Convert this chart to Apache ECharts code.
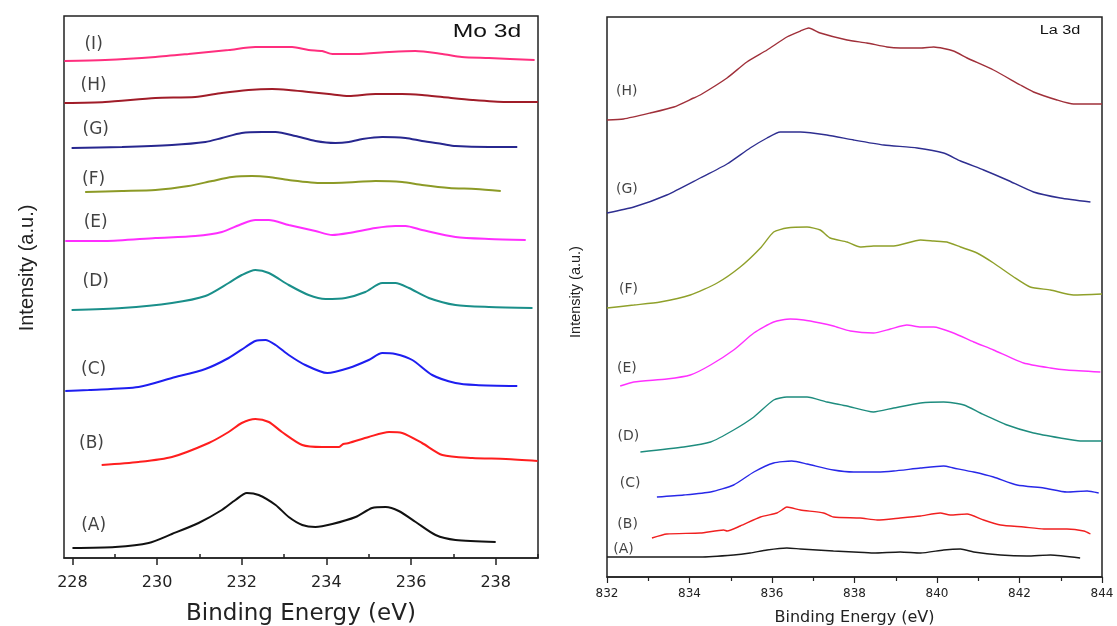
<!DOCTYPE html>
<html>
<head>
<meta charset="utf-8">
<script src="https://cdn.jsdelivr.net/npm/echarts@6/dist/echarts.min.js"></script>
<style>
  html, body { margin: 0; padding: 0; background: #fff; }
  #chart { width: 1117px; height: 626px; }
</style>
</head>
<body>
<div id="chart"></div>
<script>
// ---- Mo 3d spectra: [binding energy (eV), intensity (a.u., stacked)] ----
const moMajorTicks = [228, 230, 232, 234, 236, 238];
const moMinorTicks = [229, 231, 233, 235, 237, 239];

const moA = [[228.0,10],[229.01,11],[229.8,15],[230.35,24],[230.98,35],[231.53,48],[231.85,58],[232.12,65],[232.4,63],[232.8,53],[233.11,41],[233.43,33],[233.74,31],[234.14,34],[234.69,41],[235.08,50],[235.4,51],[235.71,47],[236.11,36],[236.58,23],[237.05,18],[238.0,16]];
const moB = [[228.69,93],[229.56,96],[230.35,101],[231.22,115],[231.69,126],[232.0,135],[232.32,139],[232.64,136],[232.95,126],[233.43,113],[233.9,111],[234.3,111],[234.4,114],[234.53,115],[235.0,121],[235.48,126],[235.79,125],[236.26,115],[236.74,103],[237.45,100],[238.24,99],[238.99,97]];
const moC = [[227.83,167],[228.38,168],[229.56,171],[230.35,180],[231.14,189],[231.69,200],[232.09,211],[232.32,217],[232.56,218],[232.8,213],[233.11,203],[233.5,193],[234.02,185],[234.53,190],[235.0,198],[235.32,205],[235.63,204],[236.03,198],[236.5,183],[237.05,175],[237.53,173],[238.51,172]];
const moD = [[227.98,248],[229.17,250],[230.35,255],[231.14,262],[231.69,275],[232.0,283],[232.32,288],[232.64,285],[233.11,273],[233.58,263],[233.98,259],[234.45,260],[234.92,266],[235.32,275],[235.63,275],[235.95,270],[236.42,260],[237.05,253],[237.84,251],[238.87,250]];
const moE = [[227.83,317],[228.77,317],[229.96,320],[230.9,322],[231.53,326],[232.0,334],[232.32,338],[232.64,338],[233.11,333],[233.74,327],[234.14,323],[234.53,325],[235.16,330],[235.63,332],[235.87,332],[236.26,328],[237.05,321],[237.84,319],[238.71,318]];
const moF = [[228.3,366],[229.17,367],[229.96,368],[230.74,372],[231.3,377],[231.77,381],[232.24,382],[232.64,381],[233.11,378],[233.9,375],[234.69,376],[235.16,377],[235.79,376],[236.26,373],[236.9,370],[237.53,369],[238.12,367]];
const moG = [[227.98,410],[229.17,411],[230.35,413],[231.14,416],[231.53,420],[232.0,425],[232.48,426],[232.8,426],[233.27,422],[233.74,417],[234.21,415],[234.53,416],[234.85,419],[235.32,421],[235.87,420],[236.26,417],[236.74,414],[237.05,412],[237.84,411],[238.51,411]];
const moH = [[227.81,455],[228.77,456],[229.96,460],[230.9,461],[231.53,465],[232.16,468],[232.72,469],[233.11,468],[233.58,466],[234.06,464],[234.53,462],[235.16,464],[235.48,464],[235.79,464],[236.26,463],[236.74,461],[237.45,458],[238.24,456],[239.0,456]];
const moI = [[227.81,497],[228.77,498],[229.96,501],[230.74,504],[231.69,508],[232.32,511],[232.95,511],[233.19,511],[233.58,508],[233.9,507],[234.14,504],[234.69,504],[235.48,506],[236.1,507],[236.74,504],[237.2,501],[237.84,500],[238.92,498]];

const moNames = ['(A)','(B)','(C)','(D)','(E)','(F)','(G)','(H)','(I)'];
const moLabelAt = [[228.5,32],[228.45,114],[228.5,188],[228.55,276],[228.55,335],[228.5,378],[228.55,428],[228.5,472],[228.5,513]];

// ---- La 3d spectra ----
const laA = [[832,20],[833.05,20],[833.45,20],[834.26,20],[835.07,22],[835.47,24],[835.88,27],[836.36,29],[836.69,28],[837.49,26],[837.98,25],[838.46,24],[839.11,25],[839.6,24],[840.16,27],[840.57,28],[840.89,25],[841.54,22],[842.18,21],[842.75,22],[843.47,19]];
const laB = [[833.09,39],[833.45,43],[834.26,44],[834.83,47],[834.91,46],[835.23,51],[835.72,60],[836.12,64],[836.24,67],[836.36,70],[836.69,67],[837.25,64],[837.49,60],[838.14,59],[838.55,57],[839.11,59],[839.6,61],[840.08,64],[840.32,62],[840.73,63],[841.13,57],[841.54,52],[842.1,50],[842.59,48],[843.15,48],[843.56,46],[843.72,43]];
const laC = [[833.21,80],[833.86,82],[834.51,85],[835.07,92],[835.56,105],[836.04,114],[836.48,116],[836.85,113],[837.49,107],[837.98,105],[838.55,105],[838.95,106],[839.6,109],[840.16,111],[840.4,109],[840.89,105],[841.37,100],[841.94,92],[842.59,89],[843.15,85],[843.64,86],[843.92,84]];
const laD = [[832.81,125],[833.86,130],[834.51,135],[835.07,147],[835.56,160],[836.04,177],[836.36,180],[836.85,180],[837.33,175],[837.82,171],[838.46,165],[838.95,169],[839.6,174],[840.16,175],[840.65,172],[841.05,164],[841.7,152],[842.34,144],[842.99,139],[843.47,136],[844,136]];
const laE = [[832.32,191],[832.65,195],[833.45,198],[834.02,202],[834.51,212],[835.07,227],[835.56,244],[836.04,255],[836.44,258],[836.77,257],[837.17,254],[837.49,251],[837.9,246],[838.46,244],[838.87,248],[839.27,252],[839.6,250],[839.92,250],[840.4,244],[840.89,235],[841.37,227],[842.1,214],[842.75,209],[843.15,207],[843.96,205]];
const laF = [[832,269],[832.65,272],[833.29,275],[834.02,282],[834.67,294],[835.23,310],[835.72,329],[836.04,345],[836.36,349],[836.85,350],[837.17,347],[837.41,339],[837.82,335],[838.14,330],[838.46,331],[838.95,331],[839.6,337],[839.92,336],[840.24,335],[840.57,330],[840.97,324],[841.37,314],[841.86,300],[842.26,290],[842.75,287],[843.31,282],[844,283]];
const laG = [[832,364],[832.65,370],[833.45,382],[834.26,399],[834.91,413],[835.47,429],[835.88,439],[836.2,445],[836.69,445],[837.33,442],[837.98,437],[838.71,432],[839.52,429],[840.16,424],[840.57,416],[841.13,407],[841.7,397],[842.34,385],[842.99,379],[843.72,375]];
const laH = [[832,457],[832.4,458],[833.05,464],[833.62,470],[834.1,479],[834.26,482],[834.91,499],[835.39,515],[835.88,527],[836.36,540],[836.69,546],[836.89,549],[837.17,544],[837.82,537],[838.3,534],[838.79,530],[839.11,529],[839.6,529],[839.92,530],[840.4,526],[840.73,519],[841.37,507],[842.02,492],[842.34,485],[842.91,477],[843.31,473],[844,473]];

const laNames = ['(A)','(B)','(C)','(D)','(E)','(F)','(G)','(H)'];
const laLabelAt = [[832.4,28],[832.5,53],[832.56,94],[832.52,141],[832.48,209],[832.52,288],[832.48,388],[832.48,486]];

// ---- styling ----
const moColors = ['#111111','#ff1e1e','#1e1ef0','#1a8f8a','#ff2eff','#8c9a26','#27278f','#a01c28','#ff2e7e'];
const laColors = ['#1a1a1a','#f02020','#2828e8','#1e8c7e','#ff30ff','#8fa02a','#2e2e90','#a0303a'];
const frame = '#222';
const numFont = '"DejaVu Sans", sans-serif';
const textFont = '"Liberation Sans", Arial, sans-serif';

const moSeriesData = [moA, moB, moC, moD, moE, moF, moG, moH, moI];
const laSeriesData = [laA, laB, laC, laD, laE, laF, laG, laH];

const series = [];
moSeriesData.forEach((d, i) => series.push({
  type: 'line', name: 'Mo ' + moNames[i], xAxisIndex: 0, yAxisIndex: 0,
  data: d, symbol: 'none', smooth: 0.25, silent: true,
  lineStyle: { color: moColors[i], width: 2 }
}));
laSeriesData.forEach((d, i) => series.push({
  type: 'line', name: 'La ' + laNames[i], xAxisIndex: 2, yAxisIndex: 1,
  data: d, symbol: 'none', smooth: 0.2, silent: true,
  lineStyle: { color: laColors[i], width: 1.4 }
}));

// sample tags next to each trace
series.push({
  type: 'scatter', xAxisIndex: 0, yAxisIndex: 0, silent: true,
  symbol: 'circle', symbolSize: 1, itemStyle: { color: 'rgba(0,0,0,0)' },
  data: moNames.map((n, i) => ({ name: n, value: moLabelAt[i] })),
  label: { show: true, position: 'inside', formatter: '{b}', color: '#111',
           fontFamily: numFont, fontSize: 17 }
});
series.push({
  type: 'scatter', xAxisIndex: 2, yAxisIndex: 1, silent: true,
  symbol: 'circle', symbolSize: 1, itemStyle: { color: 'rgba(0,0,0,0)' },
  data: laNames.map((n, i) => ({ name: n, value: laLabelAt[i] })),
  label: { show: true, position: 'inside', formatter: '{b}', color: '#111',
           fontFamily: numFont, fontSize: 14 }
});

const chart = echarts.init(document.getElementById('chart'), null, { renderer: 'canvas' });
chart.setOption({
  backgroundColor: '#ffffff',
  animation: false,
  grid: [
    { left: 64, top: 16, width: 474, height: 542, containLabel: false, outerBoundsMode: 'none',
      show: true, borderColor: frame, borderWidth: 1.5, backgroundColor: 'transparent' },
    { left: 607, top: 17, width: 495, height: 560, containLabel: false, outerBoundsMode: 'none',
      show: true, borderColor: frame, borderWidth: 1.5, backgroundColor: 'transparent' }
  ],
  xAxis: [
    {
      gridIndex: 0, type: 'value', min: 227.8, max: 239,
      axisLine: { show: true, onZero: false, lineStyle: { color: frame, width: 1.5 } },
      axisTick: { show: true, customValues: moMajorTicks, length: 7, lineStyle: { color: frame, width: 1.5 } },
      axisLabel: { customValues: moMajorTicks, color: '#222', fontFamily: numFont, fontSize: 16, margin: 17 },
      splitLine: { show: false },
      name: 'Binding Energy (eV)', nameLocation: 'middle', nameGap: 45,
      nameTextStyle: { color: '#222', fontFamily: numFont, fontSize: 23 }
    },
    {
      gridIndex: 0, type: 'value', min: 227.8, max: 239,
      axisLine: { show: false },
      axisTick: { show: true, customValues: moMinorTicks, length: 4, lineStyle: { color: frame, width: 1.5 } },
      axisLabel: { show: false }, splitLine: { show: false }
    },
    {
      gridIndex: 1, type: 'value', min: 832, max: 844, interval: 2,
      axisLine: { show: true, onZero: false, lineStyle: { color: frame, width: 1.5 } },
      axisTick: { show: true, length: 6, lineStyle: { color: frame, width: 1.2 } },
      minorTick: { show: true, splitNumber: 2, length: 4, lineStyle: { color: frame, width: 1.2 } },
      axisLabel: { color: '#222', fontFamily: numFont, fontSize: 12, margin: 11 },
      splitLine: { show: false },
      name: 'Binding Energy (eV)', nameLocation: 'middle', nameGap: 33,
      nameTextStyle: { color: '#222', fontFamily: numFont, fontSize: 16 }
    }
  ],
  yAxis: [
    { gridIndex: 0, type: 'value', min: 0, max: 542, show: false },
    { gridIndex: 1, type: 'value', min: 0, max: 560, show: false }
  ],
  graphic: [
    { type: 'text', x: 27, y: 268, rotation: Math.PI / 2, silent: true,
      style: { text: 'Intensity (a.u.)', fill: '#222', fontFamily: textFont, fontSize: 20, align: 'center', verticalAlign: 'middle' } },
    { type: 'text', x: 576, y: 292, rotation: Math.PI / 2, silent: true,
      style: { text: 'Intensity (a.u.)', fill: '#222', fontFamily: textFont, fontSize: 14.5, align: 'center', verticalAlign: 'middle' } },
    { type: 'text', x: 487, y: 32, scaleX: 1.3, silent: true,
      style: { text: 'Mo 3d', fill: '#111', fontFamily: textFont, fontSize: 19, align: 'center', verticalAlign: 'middle' } },
    { type: 'text', x: 1060, y: 31, scaleX: 1.3, silent: true,
      style: { text: 'La 3d', fill: '#111', fontFamily: textFont, fontSize: 12.5, align: 'center', verticalAlign: 'middle' } }
  ],
  series: series
});
</script>
</body>
</html>
